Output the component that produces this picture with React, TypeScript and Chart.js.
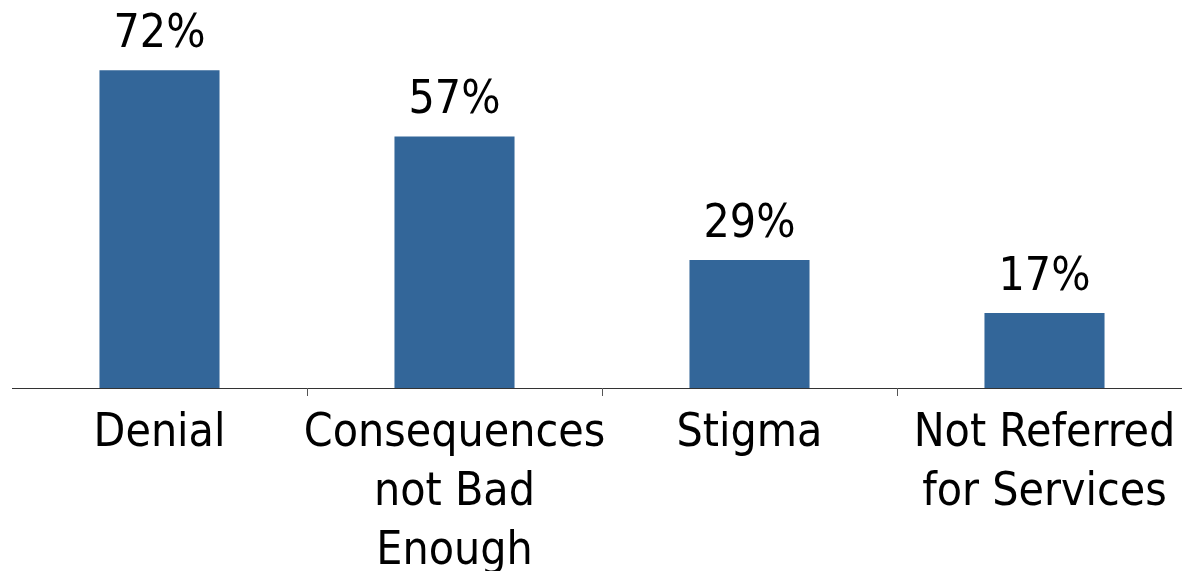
import React, { useEffect, useRef } from "react";
import { Chart, registerables } from "chart.js";

Chart.register(...registerables);

const categories: (string | string[])[] = [
  "Denial",
  ["Consequences", "not Bad", "Enough"],
  "Stigma",
  ["Not Referred", "for Services"],
];
const values = [72, 57, 29, 17];
const valueLabels = ["72%", "57%", "29%", "17%"];

const FONT = "'DejaVu Sans Condensed', 'DejaVu Sans', sans-serif";

const valueLabelPlugin = {
  id: "valueLabels",
  afterDatasetsDraw(chart: any) {
    const { ctx } = chart;
    const meta = chart.getDatasetMeta(0);
    ctx.save();
    ctx.fillStyle = "#000";
    ctx.font = `46px ${FONT}`;
    ctx.textAlign = "center";
    ctx.textBaseline = "alphabetic";
    meta.data.forEach((bar: any, i: number) => {
      ctx.fillText(valueLabels[i], bar.x, bar.y - 23);
    });
    ctx.restore();
  },
};

export default function App() {
  const ref = useRef<HTMLCanvasElement>(null);
  useEffect(() => {
    if (!ref.current) return;
    const chart = new Chart(ref.current, {
      type: "bar",
      data: {
        labels: categories,
        datasets: [
          {
            data: values,
            backgroundColor: "#336699",
            borderWidth: 0,
            categoryPercentage: 1,
            barPercentage: 0.407,
          },
        ],
      },
      options: {
        responsive: false,
        animation: false,
        layout: { padding: { left: 4, right: 6, top: 27, bottom: 0 } },
        plugins: { legend: { display: false }, tooltip: { enabled: false } },
        scales: {
          x: {
            border: { display: true, color: "#333", width: 1 },
            grid: {
              drawOnChartArea: false,
              drawTicks: true,
              tickLength: 8,
              color: (c: any) =>
                c.index === 0 || c.index === categories.length ? "rgba(0,0,0,0)" : "#555",
            },
            ticks: {
              color: "#000",
              font: { family: FONT, size: 46, lineHeight: 1.28 },
              padding: 9,
              maxRotation: 0,
              autoSkip: false,
            },
            afterFit: (s: any) => {
              s.height = 183;
            },
          },
          y: { display: false, min: 0, max: 80 },
        },
      },
      plugins: [valueLabelPlugin],
    });
    return () => chart.destroy();
  }, []);
  return (
    <div
      style={{
        position: "fixed",
        left: 8,
        top: 8,
        width: 1174,
        height: 563,
        overflow: "hidden",
      }}
    >
      <canvas ref={ref} width={1190} height={563} style={{ display: "block" }} />
    </div>
  );
}
